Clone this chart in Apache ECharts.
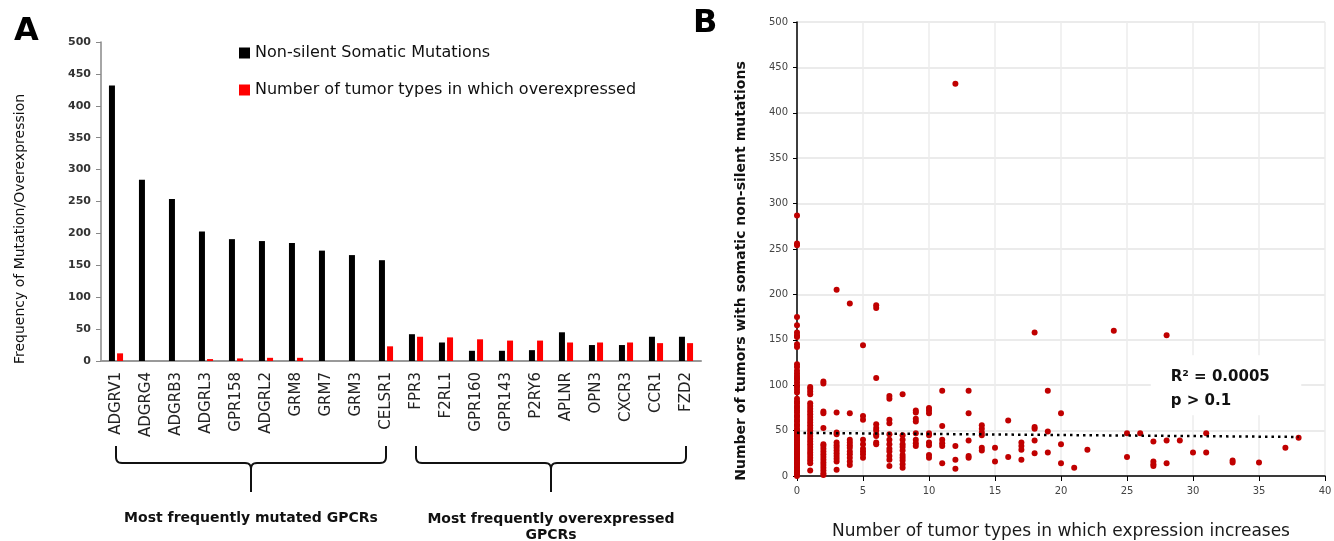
<!DOCTYPE html>
<html><head><meta charset="utf-8">
<script src="https://cdn.jsdelivr.net/npm/echarts@6/dist/echarts.min.js"></script>
<style>html,body{margin:0;padding:0;background:#fff}#c{width:1334px;height:541px}</style>
</head><body><div id="c"></div>
<script>
// ---- Panel A data ----
const categories = ['ADGRV1','ADGRG4','ADGRB3','ADGRL3','GPR158','ADGRL2','GRM8','GRM7','GRM3','CELSR1',
                    'FPR3','F2RL1','GPR160','GPR143','P2RY6','APLNR','OPN3','CXCR3','CCR1','FZD2'];
const mutations     = [432,284,254,203,191,188,185,173,166,158,42,29,16,16,17,45,25,25,38,38];
const overexpressed = [12,0,0,3,4,5,5,0,0,23,38,37,34,32,32,29,29,29,28,28];
const seriesNames = ['Non-silent Somatic Mutations','Number of tumor types in which overexpressed'];
const groupLabels = ['Most frequently mutated GPCRs','Most frequently overexpressed\nGPCRs'];
const axisTitleA = 'Frequency of Mutation/Overexpression';
const axisTitleBy = 'Number of tumors with somatic non-silent mutations';
const axisTitleBx = 'Number of tumor types in which expression increases';
const statLines = ['R\u00B2 = 0.0005', 'p > 0.1'];

// ---- Panel B data (x = number of tumor types, y = tumors with mutations) ----
const scatterXs = [0,1,2,3,4,5,6,7,8,9,10,11,12,13,14,15,16,17,18,19,20,21,22,24,25,26,27,28,29,30,31,33,35,37,38];
const scatterYs = [
  [0,2,4,5,7,9,10,12,14,15,17,19,20,22,24,25,27,29,30,32,34,35,37,39,40,42,44,45,47,49,50,52,55,57,60,62,65,67,70,72,75,77,80,82,85,92,95,98,100,103,106,108,110,113,116,120,123,142,145,153,155,158,166,175,254,256,287],
  [6,14,17,20,23,26,29,32,35,38,41,44,47,50,53,56,59,62,65,68,71,74,77,80,90,93,96,98],
  [1,3,6,9,12,15,18,21,24,27,30,33,35,53,69,71,102,104],
  [7,16,19,22,25,28,31,34,37,46,48,70,205],
  [12,16,20,24,27,31,34,37,40,69,190],
  [20,24,27,30,35,40,62,66,144],
  [35,37,44,46,50,53,57,108,185,188],
  [11,18,22,27,30,35,40,46,58,62,85,88],
  [9,13,17,20,23,28,32,35,40,45,90],
  [33,36,40,47,60,63,70,72],
  [20,23,34,37,45,47,69,72,75],
  [14,33,36,40,55,94],
  [8,18,33,432],
  [20,22,39,69,94],
  [28,31,45,48,52,56],
  [16,31],
  [21,61],
  [18,29,33,37],
  [25,39,52,54,158],
  [26,49,94],
  [14,35,69],
  [9],
  [29],
  [160],
  [21,47],
  [47],
  [11,13,16,38],
  [14,39,155],
  [39],
  [26],
  [26,47],
  [15,17],
  [15],
  [31],
  [42]
];
const trendX = [0, 38];
const trendY = [47.5, 43];
const xTicksB = {min:0, max:40, interval:5};
const yTicksB = {min:0, max:500, interval:50};
const yTicksA = {min:0, max:500, interval:50};

const F = 'DejaVu Sans';
const scatterData = [];
scatterXs.forEach((x,i)=>scatterYs[i].forEach(y=>scatterData.push([x,y])));

const chart = echarts.init(document.getElementById('c'), null, {renderer:'canvas'});
const option = {
  animation:false,
  backgroundColor:'#fff',
  textStyle:{fontFamily:F},
  grid:[
    {left:101, top:42, width:600, height:319, containLabel:false, outerBoundsMode:'none'},
    {left:797, top:22, width:528, height:454, containLabel:false, outerBoundsMode:'none'}
  ],
  legend:{
    left:234, top:40, orient:'vertical', itemGap:21, itemWidth:11, itemHeight:11, icon:'rect',
    textStyle:{fontFamily:F, fontSize:16, color:'#111'},
    data:seriesNames
  },
  xAxis:[
    {type:'category', gridIndex:0, data:categories, boundaryGap:true,
     axisLine:{lineStyle:{color:'#999', width:2}}, axisTick:{show:false},
     axisLabel:{rotate:90, fontFamily:F, fontSize:15, color:'#222', margin:11, interval:0}},
    {type:'value', gridIndex:1, min:xTicksB.min, max:xTicksB.max, interval:xTicksB.interval,
     axisLine:{lineStyle:{color:'#000', width:1.5}}, axisTick:{show:true, length:5, lineStyle:{color:'#000'}},
     axisLabel:{fontFamily:F, fontSize:10, color:'#444', margin:10},
     splitLine:{show:true, lineStyle:{color:'#ececec', width:1.5}},
     name:axisTitleBx, nameLocation:'middle', nameGap:47,
     nameTextStyle:{fontFamily:F, fontSize:17, color:'#1a1a1a'}}
  ],
  yAxis:[
    {type:'value', gridIndex:0, min:yTicksA.min, max:yTicksA.max, interval:yTicksA.interval,
     axisLine:{show:true, lineStyle:{color:'#888', width:1.5}}, axisTick:{show:true, length:5, lineStyle:{color:'#888'}},
     splitLine:{show:false},
     axisLabel:{fontFamily:F, fontSize:11, fontWeight:'bold', color:'#333', margin:10}},
    {type:'value', gridIndex:1, min:yTicksB.min, max:yTicksB.max, interval:yTicksB.interval,
     axisLine:{show:true, lineStyle:{color:'#000', width:1.5}}, axisTick:{show:true, length:4, lineStyle:{color:'#000'}},
     splitLine:{show:true, lineStyle:{color:'#ebebeb', width:2}},
     axisLabel:{fontFamily:F, fontSize:10, color:'#444', margin:9}}
  ],
  series:[
    {name:seriesNames[0], type:'bar', xAxisIndex:0, yAxisIndex:0, data:mutations, barWidth:6, barGap:'35%',
     itemStyle:{color:'#000'}},
    {name:seriesNames[1], type:'bar', xAxisIndex:0, yAxisIndex:0, data:overexpressed, barWidth:6,
     itemStyle:{color:'#ff0000'}},
    {name:'points', type:'scatter', xAxisIndex:1, yAxisIndex:1, data:scatterData, symbol:'circle', symbolSize:6,
     itemStyle:{color:'#c00000', opacity:1}, z:3},
    {name:'trend', type:'line', xAxisIndex:1, yAxisIndex:1, data:trendX.map((x,i)=>[x,trendY[i]]),
     showSymbol:false, lineStyle:{color:'#000', width:2.5, type:[2.5,4]}, z:4}
  ]
};
chart.setOption(option);

function quad(p0,p1,p2,n){ const out=[]; for(let i=0;i<=n;i++){const t=i/n,a=(1-t)*(1-t),b=2*(1-t)*t,c=t*t; out.push([a*p0[0]+b*p1[0]+c*p2[0], a*p0[1]+b*p1[1]+c*p2[1]]);} return out; }
function bracePoints(x1,x2,yTop,yMid,yTip){
  const xc=(x1+x2)/2, r=6;
  return [[x1,yTop]]
    .concat(quad([x1,yMid-r],[x1,yMid],[x1+r,yMid],6))
    .concat(quad([xc-r,yMid],[xc,yMid],[xc,yMid+r],6))
    .concat([[xc,yTip],[xc,yMid+r]])
    .concat(quad([xc,yMid+r],[xc,yMid],[xc+r,yMid],6))
    .concat(quad([x2-r,yMid],[x2,yMid],[x2,yMid-r],6))
    .concat([[x2,yTop]]);
}
const cx = c => chart.convertToPixel({xAxisIndex:0}, c);
const a1 = cx(categories[0]), a2 = cx(categories[9]), b1 = cx(categories[10]), b2 = cx(categories[19]);
const annTL = chart.convertToPixel({gridIndex:1}, [26.8, 133]);
const annBR = chart.convertToPixel({gridIndex:1}, [38.2, 67]);
chart.setOption({graphic:[
  {type:'text', x:14, y:16, style:{text:'A', font:'bold 32px "DejaVu Sans"', fill:'#000'}},
  {type:'text', x:693, y:8, style:{text:'B', font:'bold 32px "DejaVu Sans"', fill:'#000'}},
  {type:'text', x:20, y:229, rotation:Math.PI/2, style:{text:axisTitleA, font:'14px "DejaVu Sans"', fill:'#111', textAlign:'center', textVerticalAlign:'middle'}},
  {type:'text', x:741, y:271, rotation:Math.PI/2, style:{text:axisTitleBy, font:'bold 14px "DejaVu Sans"', fill:'#111', textAlign:'center', textVerticalAlign:'middle'}},
  {type:'polyline', shape:{points:bracePoints(a1,a2,446,463,492)}, style:{stroke:'#111', lineWidth:2, fill:null}},
  {type:'polyline', shape:{points:bracePoints(b1,b2,446,463,492)}, style:{stroke:'#111', lineWidth:2, fill:null}},
  {type:'text', x:(a1+a2)/2, y:511, style:{text:groupLabels[0], font:'bold 14px "DejaVu Sans"', fill:'#111', textAlign:'center'}},
  {type:'text', x:(b1+b2)/2, y:511, style:{text:groupLabels[1], font:'bold 14px "DejaVu Sans"', fill:'#111', textAlign:'center', lineHeight:16}},
  {type:'rect', shape:{x:annTL[0], y:annTL[1], width:annBR[0]-annTL[0], height:annBR[1]-annTL[1]}, style:{fill:'#fff'}, z:10},
  {type:'text', x:annTL[0]+20, y:annTL[1]+10, z:11, style:{
     text:statLines.join('\n'), font:'bold 15px "DejaVu Sans"', fill:'#111', lineHeight:24}}
]});
</script></body></html>
